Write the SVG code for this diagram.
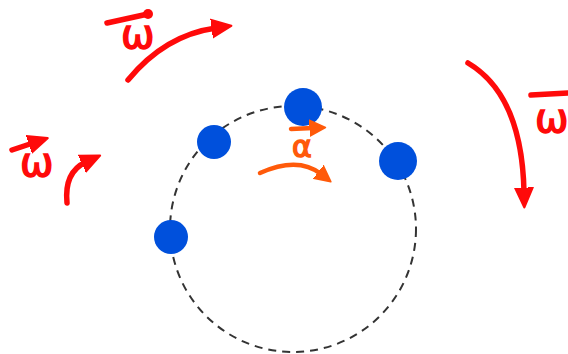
<svg xmlns="http://www.w3.org/2000/svg" width="568" height="354" viewBox="0 0 568 354">
<style>
.red{fill:none;stroke:#FF0A0A;stroke-width:5.5;stroke-linecap:round}
.org{fill:none;stroke:#FF5A0A;stroke-width:4.5;stroke-linecap:round}
.dot{fill:#0050DC}
.lbl{font-family:"DejaVu Sans",sans-serif;font-size:40px;stroke-width:1.5}
</style>
<defs>
<marker id="hr" markerUnits="userSpaceOnUse" markerWidth="22" markerHeight="22" refX="4" refY="9" orient="auto" viewBox="0 0 20 18">
<path d="M0,1 L18,9 L0,17 Z" fill="#FF0A0A" stroke="#FF0A0A" stroke-width="2" stroke-linejoin="round"/>
</marker>
<marker id="ho" markerUnits="userSpaceOnUse" markerWidth="18" markerHeight="18" refX="3" refY="8" orient="auto" viewBox="0 0 16 16">
<path d="M0,1 L14,8 L0,15 Z" fill="#FF5A0A" stroke="#FF5A0A" stroke-width="1.5" stroke-linejoin="round"/>
</marker>
</defs>
<g id="orbit">
<circle cx="293" cy="229" r="123" fill="none" stroke="#333" stroke-width="2" stroke-dasharray="8 6"/>
</g>
<g id="dot1"><circle class="dot" cx="303" cy="107" r="19"/></g>
<g id="dot2"><circle class="dot" cx="214" cy="142" r="17"/></g>
<g id="dot3"><circle class="dot" cx="398" cy="161" r="19"/></g>
<g id="dot4"><circle class="dot" cx="171" cy="237" r="17"/></g>
<g id="connectors">
<path class="red" d="M128,80 Q165,35 216,28" marker-end="url(#hr)"/>
<path class="red" d="M468,63 Q522,95 524,192" marker-end="url(#hr)"/>
<path class="red" d="M67,203 Q64,172 86,162" marker-end="url(#hr)"/>
<path class="org" d="M260,173 Q298,156 321,174" marker-end="url(#ho)"/>
</g>
<g id="label-omega-top">
<path class="red" d="M107,23 L148,14"/>
<circle cx="148" cy="14" r="5" fill="#FF0A0A"/>
<text class="lbl" x="121" y="48" fill="#FF0A0A" stroke="#FF0A0A">ω</text>
</g>
<g id="label-omega-left">
<path class="red" d="M12,150 L33,143" marker-end="url(#hr)"/>
<text class="lbl" x="20" y="176" fill="#FF0A0A" stroke="#FF0A0A">ω</text>
</g>
<g id="label-omega-right">
<path class="red" d="M531,95 L568,93"/>
<text class="lbl" x="535" y="132" fill="#FF0A0A" stroke="#FF0A0A">ω</text>
</g>
<g id="label-alpha">
<path class="org" d="M291,129 L313,128" marker-end="url(#ho)"/>
<text class="lbl" x="292" y="157" fill="#FF5A0A" stroke="#FF5A0A" style="font-size:30px">α</text>
</g>
</svg>
